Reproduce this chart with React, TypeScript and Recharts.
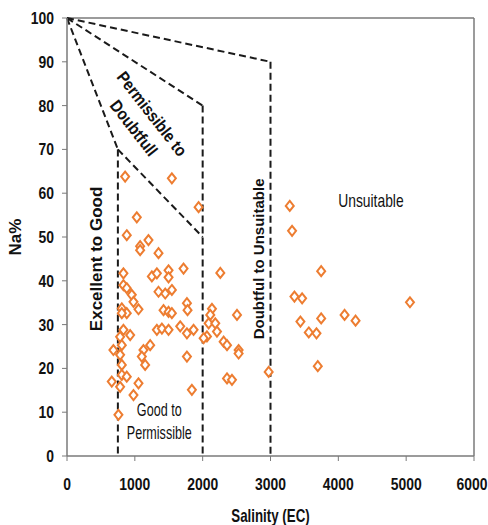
import React from 'react'
import {
  ScatterChart,
  Scatter,
  XAxis,
  YAxis,
  ReferenceLine,
  ReferenceDot,
} from 'recharts'

// salinity (EC) and Na% of each sample
const salinity = [
  857, 1546, 1940, 1029, 881, 1201, 1078, 1078, 1349,
  832, 1251, 1325, 1497, 1718, 1497,
  832, 881, 955, 980, 1054, 808, 881, 808,
  1349, 1448, 1546, 1423, 1497, 1546, 1768, 1777,
  832, 931, 783, 1325, 1399, 1497, 1669, 1768, 1866,
  684, 808, 783, 1127, 1226, 1103, 1152, 1768, 808,
  660, 808, 881, 783, 1054, 980, 1841, 758,
  2137, 2112, 2088, 2186, 2211, 2063, 2014, 2506, 2309, 2359, 2530, 2530, 2359, 2432, 2973, 2260,
  3284, 3318, 3747, 3353, 3466, 3441, 3564, 3678, 3747, 4092, 4254, 5056, 3697,
]
const naPct = [
  63.8, 63.4, 56.8, 54.5, 50.4, 49.3, 47.9, 47.0, 46.3,
  41.7, 41.0, 41.7, 42.4, 42.8, 40.8,
  39.0, 38.3, 36.8, 35.2, 33.5, 33.7, 32.6, 32.6,
  37.5, 37.1, 37.9, 33.3, 32.9, 32.6, 34.9, 33.3,
  28.8, 27.6, 27.2, 28.8, 29.1, 28.8, 29.6, 28.0, 28.8,
  24.2, 25.3, 23.1, 24.2, 25.3, 22.7, 20.8, 22.7, 20.8,
  17.0, 18.5, 18.1, 15.8, 16.6, 13.9, 15.1, 9.4,
  33.6, 32.2, 30.3, 30.3, 28.4, 27.3, 26.9, 32.2, 26.1, 25.3, 24.2, 23.4, 17.7, 17.4, 19.2, 41.8,
  57.1, 51.4, 42.2, 36.4, 36.0, 30.7, 28.2, 28.0, 31.4, 32.2, 30.9, 35.1, 20.5,
]

const xTicks = [0, 1000, 2000, 3000, 4000, 5000, 6000]
const yTicks = [0, 10, 20, 30, 40, 50, 60, 70, 80, 90, 100]

// Wilcox class boundaries [from, to] as [EC, Na%]
const boundaries = [
  [[0, 100], [750, 70]],
  [[750, 70], [750, 0]],
  [[750, 70], [2000, 50]],
  [[0, 100], [2000, 80]],
  [[2000, 80], [2000, 0]],
  [[0, 100], [3000, 90]],
  [[3000, 90], [3000, 0]],
]

// class labels: position in data units
const zoneLabels = [
  { x: 430, y: 45, lines: ['Excellent to Good'], angle: -90, bold: true, size: 17, sx: 1 },
  { x: 2820, y: 45, lines: ['Doubtful to Unsuitable'], angle: -90, bold: true, size: 15, sx: 1 },
  { x: 4480, y: 58.4, lines: ['Unsuitable'], angle: 0, bold: false, size: 18, sx: 0.77 },
  { x: 1360, y: 8, lines: ['Good to', 'Permissible'], angle: 0, bold: false, size: 18, sx: 0.7 },
  { x: 1120, y: 76.5, lines: ['Permissible to', 'Doubtfull'], angle: 52, bold: true, size: 17, sx: 0.88 },
]

const points = salinity.map((ec, i) => ({ ec, na: naPct[i] }))

const FONT = '"Liberation Sans", Arial, sans-serif'
const ORANGE = '#ED7D31'
const AXIS = '#7a7a7a'

const Diamond = (props: any) => {
  const { cx, cy } = props
  if (cx == null || cy == null) return null
  return (
    <polygon
      points={`${cx},${cy - 5} ${cx + 4},${cy} ${cx},${cy + 5} ${cx - 4},${cy}`}
      fill="#fff"
      stroke={ORANGE}
      strokeWidth={2}
    />
  )
}

// narrow-looking text: translate, rotate, then squeeze horizontally
const SText = ({ x, y, angle = 0, sx = 1, size, bold, anchor = 'middle', children }: any) => (
  <text
    transform={`translate(${x} ${y}) rotate(${angle}) scale(${sx} 1)`}
    textAnchor={anchor}
    fontFamily={FONT}
    fontSize={size}
    fontWeight={bold ? 'bold' : 'normal'}
    fill="#111"
  >
    {children}
  </text>
)

const zoneText = (z: any) => (props: any) => {
  const { cx, cy } = props
  const lh = 23
  return (
    <SText x={cx} y={cy} angle={z.angle} sx={z.sx} size={z.size} bold={z.bold}>
      {z.lines.map((l: string, i: number) => (
        <tspan key={i} x={0} y={(i - (z.lines.length - 1) / 2) * lh} dy="0.35em">
          {l}
        </tspan>
      ))}
    </SText>
  )
}

const XTick = ({ x, y, payload }: any) => (
  <SText x={x} y={y} sx={0.82} size={17} bold>
    <tspan x={0} y={0} dy="0.71em">{payload.value}</tspan>
  </SText>
)

const YTick = ({ x, y, payload }: any) => (
  <SText x={x} y={y} sx={0.82} size={17} bold anchor="end">
    <tspan x={0} y={0} dy="0.35em">{payload.value}</tspan>
  </SText>
)

const XTitle = ({ viewBox }: any) => (
  <SText x={viewBox.x + viewBox.width / 2} y={viewBox.y + viewBox.height - 3} sx={0.74} size={18} bold>
    <tspan x={0} y={0}>Salinity (EC)</tspan>
  </SText>
)

const YTitle = ({ viewBox }: any) => (
  <SText x={viewBox.x + 15} y={viewBox.y + viewBox.height / 2} angle={-90} size={17} bold>
    <tspan x={0} y={0} dy="0.35em">Na%</tspan>
  </SText>
)

export default function App() {
  return (
    <div style={{ position: 'absolute', left: 0, top: 0, background: '#fff' }}>
      <ScatterChart
        width={488}
        height={525}
        margin={{ top: 18, right: 14, left: 0, bottom: 0 }}
        style={{ fontFamily: FONT }}
      >
        <XAxis
          type="number"
          dataKey="ec"
          domain={[0, 6000]}
          ticks={xTicks}
          height={69}
          tickSize={5}
          tickMargin={17}
          axisLine={{ stroke: AXIS, strokeWidth: 1.5 }}
          tickLine={{ stroke: AXIS }}
          tick={<XTick />}
          label={<XTitle />}
        />
        <YAxis
          type="number"
          dataKey="na"
          domain={[0, 100]}
          ticks={yTicks}
          width={67}
          tickSize={5}
          tickMargin={8}
          axisLine={{ stroke: AXIS, strokeWidth: 1.5 }}
          tickLine={{ stroke: AXIS }}
          tick={<YTick />}
          label={<YTitle />}
        />
        <ReferenceLine y={100} stroke={AXIS} strokeWidth={1.5} />
        <ReferenceLine x={6000} stroke={AXIS} strokeWidth={1.5} />
        {boundaries.map((s, i) => (
          <ReferenceLine
            key={i}
            segment={[{ x: s[0][0], y: s[0][1] }, { x: s[1][0], y: s[1][1] }]}
            stroke="#1a1a1a"
            strokeWidth={2}
            strokeDasharray="7 4"
          />
        ))}
        {zoneLabels.map((z, i) => (
          <ReferenceDot key={i} x={z.x} y={z.y} r={0} shape={zoneText(z)} />
        ))}
        <Scatter data={points} shape={<Diamond />} isAnimationActive={false} />
      </ScatterChart>
    </div>
  )
}
